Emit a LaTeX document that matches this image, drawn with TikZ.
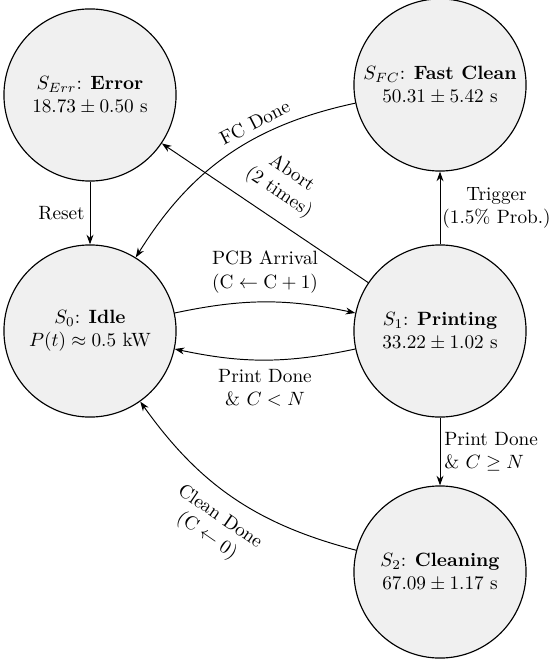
\documentclass[tikz,border=0pt]{standalone}
\usetikzlibrary{arrows.meta}
\begin{document}
\begin{tikzpicture}[x=0.52pt,y=0.52pt,
  state/.style={circle, draw, line width=0.6pt, fill=black!6, minimum size=89.5pt, inner sep=0pt, align=center},
  trans/.style={-{Stealth[length=5pt,width=3.6pt]}, line width=0.5pt},
  lbl/.style={inner sep=2.5pt, align=center}]
\useasboundingbox (0,0) rectangle (550,-664);
\node[state] (err) at (90,-95) {$S_{Err}$: \textbf{Error}\\ $18.73 \pm 0.50$ s};
\node[state] (fc) at (440,-85) {$S_{FC}$: \textbf{Fast Clean}\\ $50.31 \pm 5.42$ s};
\node[state] (s0) at (90,-331) {$S_0$: \textbf{Idle}\\ $P(t) \approx 0.5$ kW};
\node[state] (s1) at (440,-331) {$S_1$: \textbf{Printing}\\ $33.22 \pm 1.02$ s};
\node[state] (s2) at (440,-572) {$S_2$: \textbf{Cleaning}\\ $67.09 \pm 1.17$ s};
\draw[trans] (err) -- node[lbl, left] {Reset} (s0);
\draw[trans] (fc) to[bend right=23] node[lbl, above=1pt, sloped, pos=0.35] {FC Done} (s0);
\draw[trans] (s1) -- node[lbl, above=5pt, sloped, pos=0.5] {Abort\\(2 times)} (err);
\draw[trans] (s0) to[bend left=12] node[lbl, above=2pt] {PCB Arrival\\$(\mathrm{C} \leftarrow \mathrm{C}+1)$} (s1);
\draw[trans] (s1) to[bend left=12] node[lbl, below=2pt] {Print Done\\\& $C < N$} (s0);
\draw[trans] (s1) -- node[lbl, right, inner sep=1pt] {Trigger\\(1.5\% Prob.)} (fc);
\draw[trans] (s1) -- node[lbl, right, inner sep=2pt, align=left] {Print Done\\\& $C \geq N$} (s2);
\draw[trans] (s2) to[bend left=20] node[lbl, below=5pt, sloped] {Clean Done\\$(\mathrm{C} \leftarrow 0)$} (s0);
\end{tikzpicture}
\end{document}
